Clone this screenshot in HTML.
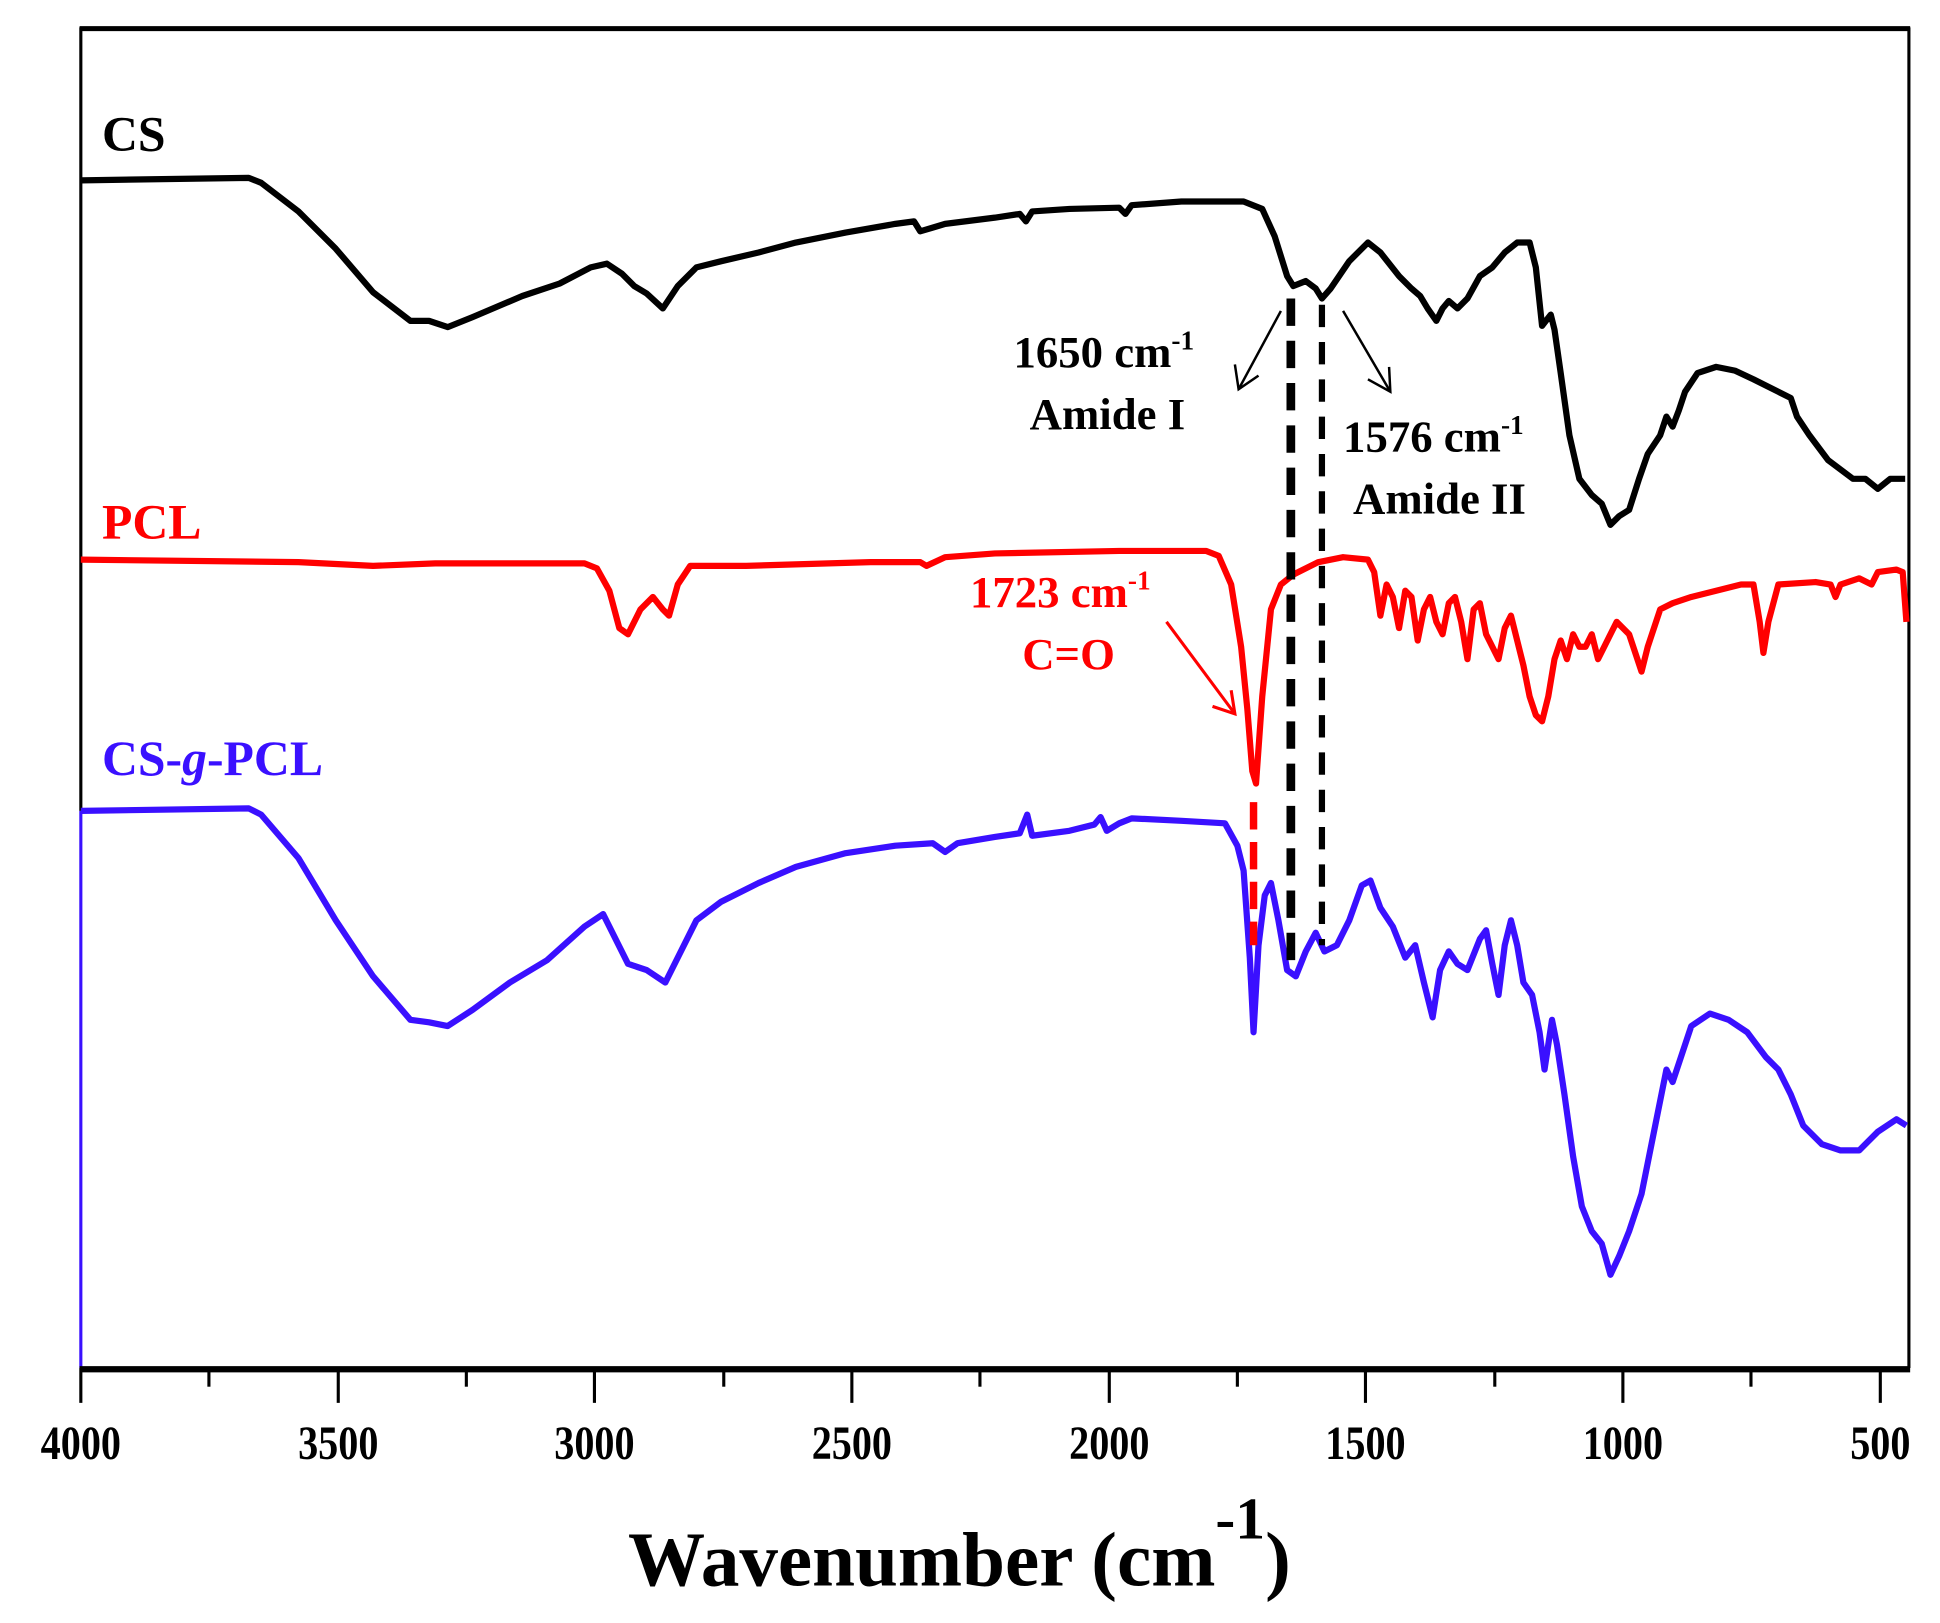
<!DOCTYPE html>
<html><head><style>html,body{margin:0;padding:0;background:#fff;}svg{display:block}</style></head>
<body>
<svg width="1940" height="1623" viewBox="0 0 1560 1305" preserveAspectRatio="none" xmlns="http://www.w3.org/2000/svg" font-family="Liberation Serif, serif" font-weight="bold">
<rect width="1560" height="1305" fill="#fff"/>
<line x1="64" y1="23" x2="1536" y2="23" stroke="#000" stroke-width="4"/>
<line x1="1535" y1="22" x2="1535" y2="1100" stroke="#000" stroke-width="2.5"/>
<line x1="65" y1="22" x2="65" y2="652" stroke="#000" stroke-width="2.5"/>
<line x1="65" y1="652" x2="65" y2="1100" stroke="#3a10ff" stroke-width="2.5"/>
<line x1="64" y1="1101" x2="1536" y2="1101" stroke="#000" stroke-width="5"/>
<g stroke="#000" stroke-width="2.5">
<line x1="65" y1="1100" x2="65" y2="1128"/><line x1="168" y1="1100" x2="168" y2="1115"/>
<line x1="272" y1="1100" x2="272" y2="1128"/><line x1="375" y1="1100" x2="375" y2="1115"/>
<line x1="478" y1="1100" x2="478" y2="1128"/><line x1="582" y1="1100" x2="582" y2="1115"/>
<line x1="685" y1="1100" x2="685" y2="1128"/><line x1="788" y1="1100" x2="788" y2="1115"/>
<line x1="892" y1="1100" x2="892" y2="1128"/><line x1="995" y1="1100" x2="995" y2="1115"/>
<line x1="1098" y1="1100" x2="1098" y2="1128"/><line x1="1202" y1="1100" x2="1202" y2="1115"/>
<line x1="1305" y1="1100" x2="1305" y2="1128"/><line x1="1408" y1="1100" x2="1408" y2="1115"/>
<line x1="1512" y1="1100" x2="1512" y2="1128"/>
</g>
<g font-size="38" text-anchor="middle" fill="#000">
<text transform="translate(65,1173) scale(0.85,1)">4000</text><text transform="translate(272,1173) scale(0.85,1)">3500</text><text transform="translate(478,1173) scale(0.85,1)">3000</text>
<text transform="translate(685,1173) scale(0.85,1)">2500</text><text transform="translate(892,1173) scale(0.85,1)">2000</text><text transform="translate(1098,1173) scale(0.85,1)">1500</text>
<text transform="translate(1305,1173) scale(0.85,1)">1000</text><text transform="translate(1512,1173) scale(0.85,1)">500</text>
</g>
<text x="505" y="1275" font-size="62" fill="#000">Wavenumber (cm<tspan font-size="48" dy="-38">-1</tspan><tspan dy="38">)</tspan></text>
<polyline fill="none" stroke="#000" stroke-width="5" stroke-linejoin="round" points="65,145 200,143 210,147 240,170 270,200 300,235 330,258 345,258 360,263 380,255 420,238 450,228 475,215 488,212 500,220 510,230 520,236 533,248 545,230 560,215 580,210 610,203 640,195 680,187 720,180 735,178 740,186 750,183 760,180 800,175 820,172 825,178 830,170 860,168 900,167 905,172 910,165 950,162 1000,162 1015,168 1025,190 1035,222 1040,230 1050,226 1058,232 1063,240 1070,232 1085,210 1100,195 1110,203 1125,222 1135,232 1142,238 1148,248 1155,258 1160,248 1165,242 1172,248 1180,240 1190,222 1200,215 1210,203 1220,195 1230,195 1235,215 1240,262 1247,253 1250,265 1255,300 1262,350 1270,385 1280,398 1288,405 1295,422 1302,415 1310,410 1318,385 1325,365 1335,350 1340,335 1345,343 1350,330 1355,315 1365,300 1380,295 1395,298 1410,305 1430,315 1440,320 1445,335 1455,350 1470,370 1490,385 1500,385 1510,393 1520,385 1532,385"/>
<polyline fill="none" stroke="#f00" stroke-width="5" stroke-linejoin="round" points="65,450 240,452 300,455 350,453 470,453 480,457 490,475 498,505 505,510 515,490 525,480 533,490 538,495 545,470 555,455 600,455 700,452 740,452 745,455 760,448 800,445 900,443 970,443 980,447 990,470 998,520 1003,570 1007,620 1010,630 1015,560 1022,490 1030,470 1040,462 1060,452 1080,448 1100,450 1105,460 1110,495 1115,470 1120,480 1125,505 1130,475 1135,480 1140,515 1145,490 1150,480 1155,500 1160,510 1165,485 1170,480 1175,500 1180,530 1185,490 1190,485 1195,510 1205,530 1210,505 1215,495 1225,535 1230,560 1235,575 1240,580 1245,560 1250,530 1255,515 1260,530 1265,510 1270,520 1275,520 1280,510 1285,530 1290,520 1300,500 1310,510 1320,540 1325,520 1335,490 1345,485 1360,480 1380,475 1400,470 1410,470 1415,500 1418,525 1422,500 1430,470 1460,468 1472,470 1476,480 1480,470 1495,465 1505,470 1510,460 1525,458 1530,460 1533,500"/>
<polyline fill="none" stroke="#3a10ff" stroke-width="5" stroke-linejoin="round" points="65,652 200,650 210,655 240,690 270,740 300,785 330,820 345,822 360,825 380,812 410,790 440,772 470,745 485,735 495,755 505,775 520,780 535,790 545,770 560,740 580,725 610,710 640,697 680,686 720,680 750,678 760,685 770,678 800,673 820,670 826,655 830,672 860,668 880,663 885,657 890,668 900,662 910,658 950,660 985,662 995,680 1000,700 1005,770 1008,830 1012,760 1017,720 1022,710 1028,740 1035,780 1042,785 1050,765 1058,750 1065,765 1075,760 1085,740 1095,712 1102,708 1110,730 1120,745 1130,770 1138,760 1145,790 1152,818 1158,780 1165,765 1172,775 1180,780 1190,755 1195,748 1200,775 1205,800 1210,760 1215,740 1220,760 1225,790 1232,800 1238,830 1242,860 1248,820 1252,840 1258,880 1265,930 1272,970 1280,990 1288,1000 1295,1025 1302,1010 1310,990 1320,960 1330,910 1340,860 1345,870 1350,855 1360,825 1375,815 1390,820 1405,830 1420,850 1430,860 1440,880 1450,905 1465,920 1480,925 1495,925 1510,910 1525,900 1533,905"/>
<line x1="1038" y1="240" x2="1038" y2="778" stroke="#000" stroke-width="7" stroke-dasharray="22,12"/>
<line x1="1063" y1="245" x2="1063" y2="760" stroke="#000" stroke-width="5" stroke-dasharray="18,12"/>
<line x1="1008" y1="645" x2="1008" y2="760" stroke="#f00" stroke-width="6" stroke-dasharray="22,10"/>
<g stroke="#000" stroke-width="2" fill="none">
<line x1="1030" y1="250" x2="996" y2="313"/><polyline points="993,293 996,313 1012,302"/>
<line x1="1080" y1="250" x2="1118" y2="315"/><polyline points="1100,305 1118,315 1117,295"/>
</g>
<g stroke="#f00" stroke-width="2.5" fill="none">
<line x1="938" y1="500" x2="993" y2="574"/><polyline points="975,568 993,574 990,555"/>
</g>
<text x="82" y="121" font-size="40" fill="#000">CS</text>
<text x="82" y="433" font-size="40" fill="#f00">PCL</text>
<text x="82" y="623" font-size="40" fill="#3a10ff">CS-<tspan font-style="italic">g</tspan>-PCL</text>
<g font-size="36" fill="#000">
<text x="815" y="295">1650 cm<tspan font-size="22" dy="-14">-1</tspan></text>
<text x="828" y="345">Amide I</text>
<text x="1080" y="363">1576 cm<tspan font-size="22" dy="-14">-1</tspan></text>
<text x="1088" y="413">Amide II</text>
</g>
<g font-size="36" fill="#f00">
<text x="780" y="488">1723 cm<tspan font-size="22" dy="-14">-1</tspan></text>
<text x="822" y="538">C=O</text>
</g>
</svg>
</body></html>
